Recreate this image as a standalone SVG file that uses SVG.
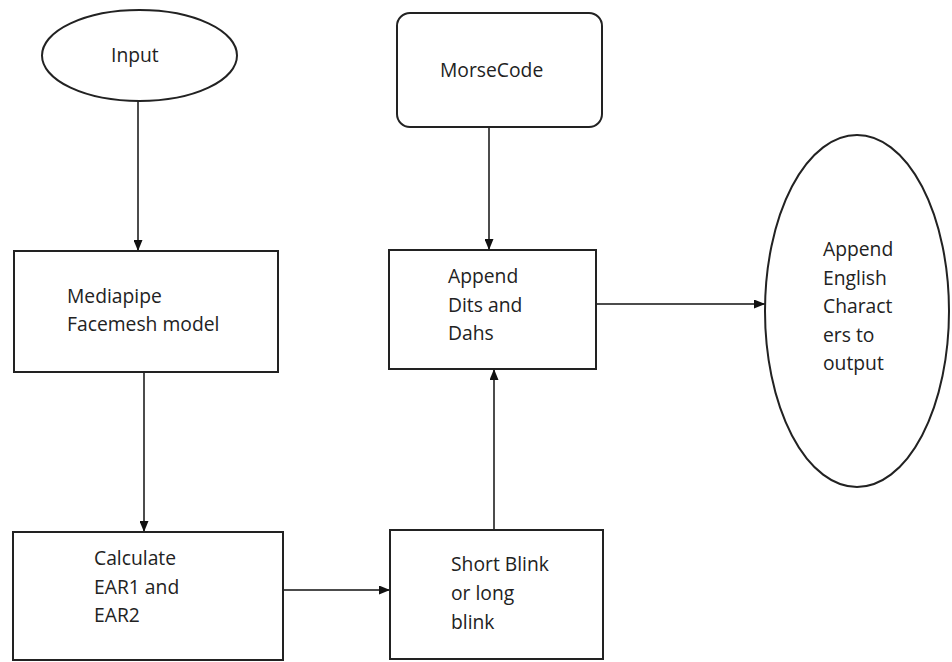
<svg xmlns="http://www.w3.org/2000/svg" width="952" height="662" viewBox="0 0 952 662">
<defs>
<marker id="ah" viewBox="0 0 11 9" refX="11" refY="4.5" markerWidth="11" markerHeight="9" markerUnits="userSpaceOnUse" orient="auto">
<path d="M0,0 L11,4.5 L0,9 Z" fill="#111"/>
</marker>
<style>
.shape{fill:#fff;stroke:#222;stroke-width:2}
.conn{fill:none;stroke:#111;stroke-width:1.5;marker-end:url(#ah)}
text{font-family:"Open Sans","Noto Sans","Liberation Sans",sans-serif;font-size:19.3px;fill:#222}
</style>
</defs>
<rect width="952" height="662" fill="#fff"/>
<g id="connectors">
<line class="conn" x1="138" y1="101" x2="138" y2="251"/>
<line class="conn" x1="489" y1="127" x2="489" y2="250"/>
<line class="conn" x1="144" y1="372" x2="144" y2="532"/>
<line class="conn" x1="283" y1="590" x2="390" y2="590"/>
<line class="conn" x1="494" y1="530" x2="494" y2="369"/>
<line class="conn" x1="596" y1="304" x2="765" y2="304"/>
</g>
<g id="input">
<ellipse class="shape" cx="139.5" cy="55.5" rx="97.5" ry="45.5"/>
<text x="111" y="62">Input</text>
</g>
<g id="morsecode">
<rect class="shape" x="397" y="13" width="205" height="114" rx="13"/>
<text x="440" y="77">MorseCode</text>
</g>
<g id="mediapipe">
<rect class="shape" x="14" y="251" width="264" height="121"/>
<text x="67" y="303">Mediapipe</text>
<text x="67" y="331">Facemesh model</text>
</g>
<g id="append">
<rect class="shape" x="389" y="250" width="207" height="119"/>
<text x="448" y="283">Append</text>
<text x="448" y="312">Dits and</text>
<text x="448" y="340">Dahs</text>
</g>
<g id="output">
<ellipse class="shape" cx="857" cy="311" rx="92" ry="176"/>
<text x="823" y="256">Append</text>
<text x="823" y="285">English</text>
<text x="823" y="313">Charact</text>
<text x="823" y="342">ers to</text>
<text x="823" y="370">output</text>
</g>
<g id="calculate">
<rect class="shape" x="13" y="532" width="270" height="128"/>
<text x="94" y="565">Calculate</text>
<text x="94" y="594">EAR1 and</text>
<text x="94" y="622">EAR2</text>
</g>
<g id="blink">
<rect class="shape" x="390" y="530" width="213" height="129"/>
<text x="451" y="571">Short Blink</text>
<text x="451" y="600">or long</text>
<text x="451" y="629">blink</text>
</g>
</svg>
